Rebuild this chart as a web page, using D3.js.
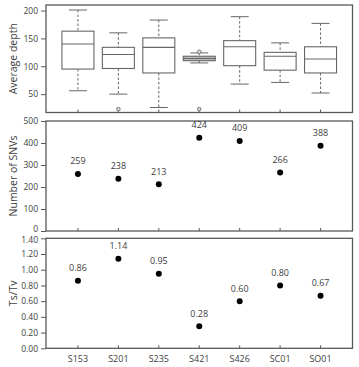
<!DOCTYPE html>
<html>
<head>
<meta charset="utf-8">
<script src="https://cdn.jsdelivr.net/npm/d3@7"></script>
<style>
	body { margin: 0; background: #fff; }
	text { font-family: "Open Sans", "Liberation Sans", sans-serif; }
</style>
</head>
<body>
<svg id="chart"></svg>
<script>
// samples along the x axis
const samples = [ 'S153', 'S201', 'S235', 'S421', 'S426', 'SC01', 'SO01' ] ;

// box plot of average depth: [lower whisker, q1, median, q3, upper whisker]
const depthLow = [ 56, 50, 26, 106, 68, 71, 52 ] ;
const depthQ1 = [ 95, 96, 88, 110, 101, 93, 88 ] ;
const depthMedian = [ 140, 121, 134, 114, 135, 118, 113 ] ;
const depthQ3 = [ 163, 134, 151, 118, 146, 125, 135 ] ;
const depthHigh = [ 201, 160, 183, 124, 189, 142, 177 ] ;
const depthOutliers = [ [], [ 23 ], [], [ 23, 126 ], [], [], [] ] ;

const snvCounts = [ 259, 238, 213, 424, 409, 266, 388 ] ;
const tsTv = [ 0.86, 1.14, 0.95, 0.28, 0.60, 0.80, 0.67 ] ;

const depthTicks = [ 50, 100, 150, 200 ] ;
const snvTicks = [ 0, 100, 200, 300, 400, 500 ] ;
const ratioTicks = [ 0, 0.2, 0.4, 0.6, 0.8, 1.0, 1.2, 1.4 ] ;

const width = 359, height = 367 ;
const left = 46, right = 352.5 ;
const panels = [
	{ top: 5, bottom: 112.5, domain: [ 17, 210 ], ticks: depthTicks, fmt: d3.format( 'd' ), title: 'Average  depth' },
	{ top: 121, bottom: 231, domain: [ 0, 500 ], ticks: snvTicks, fmt: d3.format( 'd' ), title: 'Number of SNVs' },
	{ top: 238.3, bottom: 348.3, domain: [ 0, 1.4 ], ticks: ratioTicks, fmt: d3.format( '.2f' ), title: 'Ts/Tv' }
] ;

const tickColor = '#404040' ;
const frameColor = '#595959' ;

let svg = d3.select( '#chart' )
	.attr( 'width', width )
	.attr( 'height', height ) ;

let x = d3.scalePoint()
	.domain( samples )
	.range( [ left, right ] )
	.padding( 0.79 ) ;

panels.forEach( (p, k) => {
	p.y = d3.scaleLinear().domain( p.domain ).range( [ p.bottom, p.top ] ) ;

	// y axis
	let ax = svg.append( 'g' )
		.attr( 'transform', 'translate(' + left + ' 0)' )
		.call( d3.axisLeft( p.y ).tickValues( p.ticks ).tickFormat( p.fmt ).tickSize( 5 ).tickPadding( 3 ) ) ;
	ax.select( '.domain' ).remove() ;
	ax.selectAll( 'line' ).attr( 'stroke', frameColor ) ;
	ax.selectAll( 'text' )
		.attr( 'fill', tickColor )
		.attr( 'font-size', '8.5px' )
		.style( 'font-family', '"Open Sans", sans-serif' ) ;
	// nudge the edge labels where panels meet
	if( k == 1 ) ax.selectAll( 'text' ).filter( d => d == 0 ).attr( 'dy', '0.1em' ) ;
	if( k == 2 ) ax.selectAll( 'text' ).filter( d => d == 1.4 ).attr( 'dy', '0.45em' ) ;

	// x ticks pointing inward
	svg.selectAll( null )
		.data( samples )
		.enter()
		.append( 'line' )
		.attr( 'x1', d => x(d) )
		.attr( 'x2', d => x(d) )
		.attr( 'y1', p.bottom )
		.attr( 'y2', p.bottom - 3 )
		.attr( 'stroke', frameColor ) ;

	// frame
	svg.append( 'rect' )
		.attr( 'x', left )
		.attr( 'y', p.top )
		.attr( 'width', right - left )
		.attr( 'height', p.bottom - p.top )
		.attr( 'fill', 'none' )
		.attr( 'stroke', frameColor )
		.attr( 'stroke-width', 1.3 ) ;

	// title
	svg.append( 'text' )
		.attr( 'transform', 'translate(14 ' + ( ( p.top + p.bottom ) / 2 ) + ') rotate(-90)' )
		.attr( 'text-anchor', 'middle' )
		.attr( 'dominant-baseline', 'middle' )
		.attr( 'font-size', '10.5px' )
		.attr( 'fill', tickColor )
		.text( p.title ) ;
} ) ;

// box plots
let yd = panels[0].y ;
let boxW = 32, capW = 18 ;
let boxes = svg.selectAll( 'g.box' )
	.data( samples )
	.enter()
	.append( 'g' )
	.attr( 'class', 'box' ) ;

boxes.append( 'line' )
	.attr( 'x1', d => x(d) ).attr( 'x2', d => x(d) )
	.attr( 'y1', (d,i) => yd( depthHigh[i] ) )
	.attr( 'y2', (d,i) => yd( depthQ3[i] ) )
	.attr( 'stroke', '#666' )
	.attr( 'stroke-dasharray', '2.5,2' ) ;
boxes.append( 'line' )
	.attr( 'x1', d => x(d) ).attr( 'x2', d => x(d) )
	.attr( 'y1', (d,i) => yd( depthQ1[i] ) )
	.attr( 'y2', (d,i) => yd( depthLow[i] ) )
	.attr( 'stroke', '#666' )
	.attr( 'stroke-dasharray', '2.5,2' ) ;
[ depthHigh, depthLow ].forEach( arr => {
	boxes.append( 'line' )
		.attr( 'x1', d => x(d) - capW / 2 ).attr( 'x2', d => x(d) + capW / 2 )
		.attr( 'y1', (d,i) => yd( arr[i] ) )
		.attr( 'y2', (d,i) => yd( arr[i] ) )
		.attr( 'stroke', '#666' ) ;
} ) ;
boxes.append( 'rect' )
	.attr( 'x', d => x(d) - boxW / 2 )
	.attr( 'width', boxW )
	.attr( 'y', (d,i) => yd( depthQ3[i] ) )
	.attr( 'height', (d,i) => yd( depthQ1[i] ) - yd( depthQ3[i] ) )
	.attr( 'fill', (d,i) => depthQ3[i] - depthQ1[i] < 12 ? '#bbb' : '#fff' )
	.attr( 'stroke', '#666' )
	.attr( 'stroke-width', 1.1 ) ;
boxes.append( 'line' )
	.attr( 'x1', d => x(d) - boxW / 2 ).attr( 'x2', d => x(d) + boxW / 2 )
	.attr( 'y1', (d,i) => yd( depthMedian[i] ) )
	.attr( 'y2', (d,i) => yd( depthMedian[i] ) )
	.attr( 'stroke', '#666' )
	.attr( 'stroke-width', 1.1 ) ;
boxes.each( function( d, i ) {
	d3.select( this ).selectAll( 'circle' )
		.data( depthOutliers[i] )
		.enter()
		.append( 'circle' )
		.attr( 'cx', x(d) )
		.attr( 'cy', v => yd( v ) )
		.attr( 'r', 1.8 )
		.attr( 'fill', '#ddd' )
		.attr( 'stroke', '#777' ) ;
} ) ;

// dot panels
[ [ snvCounts, panels[1], d3.format( 'd' ) ], [ tsTv, panels[2], d3.format( '.2f' ) ] ].forEach( ([ vals, p, fmt ]) => {
	svg.selectAll( null )
		.data( samples )
		.enter()
		.append( 'circle' )
		.attr( 'cx', d => x(d) )
		.attr( 'cy', (d,i) => p.y( vals[i] ) )
		.attr( 'r', 3 )
		.attr( 'fill', '#000' ) ;
	svg.selectAll( null )
		.data( samples )
		.enter()
		.append( 'text' )
		.attr( 'x', d => x(d) )
		.attr( 'y', (d,i) => p.y( vals[i] ) - 12 )
		.attr( 'text-anchor', 'middle' )
		.attr( 'dominant-baseline', 'middle' )
		.attr( 'font-size', '9px' )
		.attr( 'fill', tickColor )
		.text( (d,i) => fmt( vals[i] ) ) ;
} ) ;

// x labels
svg.selectAll( null )
	.data( samples )
	.enter()
	.append( 'text' )
	.attr( 'x', d => x(d) )
	.attr( 'y', 360 )
	.attr( 'text-anchor', 'middle' )
	.attr( 'dominant-baseline', 'middle' )
	.attr( 'font-size', '9px' )
	.attr( 'fill', tickColor )
	.text( d => d ) ;
</script>
</body>
</html>
